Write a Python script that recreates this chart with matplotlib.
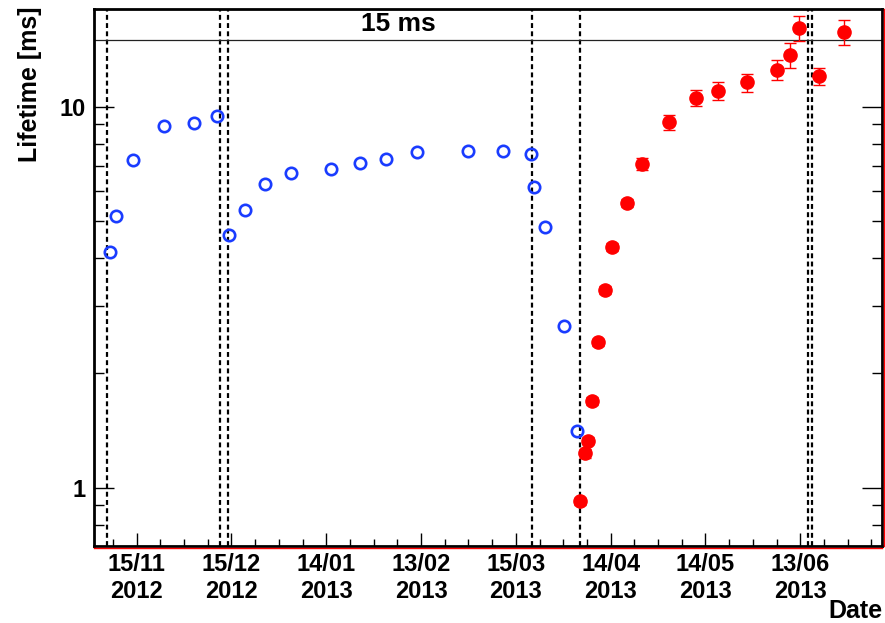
import numpy as np
import matplotlib
matplotlib.use('Agg')
import matplotlib.pyplot as plt
import matplotlib.dates as mdates
import matplotlib.ticker as ticker
import matplotlib.transforms as mtransforms

plt.rcParams['font.family'] = ['Liberation Sans', 'DejaVu Sans']
plt.rcParams['font.weight'] = 'bold'

# open blue circles (first period)
blue_dates = ['2012-11-06 13:00', '2012-11-08 11:00', '2012-11-13 17:00', '2012-11-23 13:00',
              '2012-12-03 01:00', '2012-12-10 10:00', '2012-12-14 07:00', '2012-12-19 05:00',
              '2012-12-25 17:00', '2013-01-02 18:00', '2013-01-15 12:00', '2013-01-24 14:00',
              '2013-02-02 00:00', '2013-02-11 17:00', '2013-02-27 19:00', '2013-03-10 22:00',
              '2013-03-19 17:00', '2013-03-20 17:00', '2013-03-24 05:00', '2013-03-30 07:00',
              '2013-04-03 12:00']
blue_lifetime = [4.15, 5.16, 7.25, 8.92, 9.05, 9.45, 4.61, 5.36, 6.27, 6.69, 6.88, 7.13,
                 7.28, 7.62, 7.65, 7.65, 7.53, 6.17, 4.83, 2.66, 1.41]

# filled red points with errors (second period)
red_dates = ['2013-04-04 07:00', '2013-04-06 00:00', '2013-04-06 22:00', '2013-04-08 00:00',
             '2013-04-10 00:00', '2013-04-12 02:00', '2013-04-14 14:00', '2013-04-19 02:00',
             '2013-04-24 00:00', '2013-05-02 12:00', '2013-05-11 00:00', '2013-05-18 00:00',
             '2013-05-27 05:00', '2013-06-05 19:00', '2013-06-09 19:00', '2013-06-12 17:00',
             '2013-06-18 19:00', '2013-06-27 00:00']
red_lifetime = [0.92, 1.23, 1.33, 1.69, 2.41, 3.30, 4.29, 5.59, 7.09, 9.10, 10.54, 10.99,
                11.59, 12.51, 13.64, 16.09, 12.02, 15.73]
red_err = [0.02, 0.03, 0.03, 0.04, 0.05, 0.08, 0.10, 0.15, 0.25, 0.41, 0.51, 0.60,
           0.63, 0.79, 1.03, 1.17, 0.65, 1.21]

# dashed markers of events
event_dates = ['2012-11-05 17:00', '2012-12-11 10:00', '2012-12-13 19:00', '2013-03-20 05:00',
               '2013-04-04 07:00', '2013-06-15 12:00', '2013-06-16 14:00']

ref_lifetime = 15
tick_labels = ['15/11 2012', '15/12 2012', '14/01 2013', '13/02 2013',
               '15/03 2013', '14/04 2013', '14/05 2013', '13/06 2013']
x_range = ['2012-11-01 12:00', '2013-07-08 19:00']
y_range = [0.703, 18.05]


def to_num(strings):
    return np.array([mdates.datestr2num(s) for s in strings])


def label_num(lab):
    dm, y = lab.split()
    d, m = dm.split('/')
    return mdates.datestr2num('%s-%s-%s' % (y, m, d))


fig = plt.figure(figsize=(8.85, 6.23), dpi=100)
ax = fig.add_axes([94 / 885, 77 / 623, 787.7 / 885, 537 / 623])

ax.set_yscale('log')
ax.set_xlim(to_num(x_range))
ax.set_ylim(y_range)

for d in to_num(event_dates):
    ax.axvline(d, color='black', lw=1.6, ls=(0, (2.2, 1.5)), zorder=1)
ax.axhline(ref_lifetime, color='#222222', lw=0.9, zorder=1)

ax.plot(to_num(blue_dates), blue_lifetime, 'o', mfc='none', mec='#1a3cff',
        ms=8.2, mew=1.9, zorder=3)
ax.errorbar(to_num(red_dates), red_lifetime, yerr=red_err, fmt='o', color='#ff0000',
            ms=9.5, elinewidth=1, capsize=4, capthick=1, zorder=4)

# x axis: dates
major = [label_num(l) for l in tick_labels]
step = major[1] - major[0]
minor = np.arange(major[0] - step / 4, to_num(x_range)[1], step / 4)
ax.xaxis.set_major_locator(ticker.FixedLocator(major))
ax.xaxis.set_major_formatter(ticker.FixedFormatter([l.replace(' ', '\n') for l in tick_labels]))
ax.xaxis.set_minor_locator(ticker.FixedLocator(minor))

ax.yaxis.set_major_locator(ticker.LogLocator(base=10, numticks=10))
ax.yaxis.set_minor_locator(ticker.LogLocator(base=10, subs=np.arange(2, 10), numticks=10))
ax.yaxis.set_major_formatter(ticker.FuncFormatter(lambda v, p: '%g' % v))
ax.yaxis.set_minor_formatter(ticker.NullFormatter())

ax.tick_params(axis='x', which='major', direction='in', length=9.5, width=1, pad=5,
               labelsize=17, top=False)
ax.tick_params(axis='x', which='minor', direction='in', length=5, width=1, top=False)
ax.tick_params(axis='y', which='major', direction='in', length=14.5, width=1, pad=6,
               labelsize=17, left=True, right=True)
ax.tick_params(axis='y', which='minor', direction='in', length=7.5, width=1,
               left=True, right=True)
for lab in ax.get_xticklabels():
    lab.set_linespacing(1.2)

for s in ax.spines.values():
    s.set_linewidth(2)
    s.set_color('black')

# red frame lines just outside bottom and right edges
off_b = mtransforms.offset_copy(ax.transAxes, fig=fig, x=0, y=-2, units='dots')
off_r = mtransforms.offset_copy(ax.transAxes, fig=fig, x=2, y=0, units='dots')
ax.plot([0, 1], [0, 0], color='red', lw=1, transform=off_b, clip_on=False, zorder=5)
ax.plot([1, 1], [0, 1], color='red', lw=1, transform=off_r, clip_on=False, zorder=5)

fig.text(398 / 885, 1 - 24 / 623, '15 ms', ha='center', va='center', fontsize=19,
         fontweight='bold')
fig.text(882 / 885, 1 - 611 / 623, 'Date', ha='right', va='center', fontsize=18,
         fontweight='bold')
fig.text(30 / 885, 1 - 6 / 623, 'Lifetime [ms]', ha='center', va='top', rotation=90,
         fontsize=18, fontweight='bold')

fig.savefig('out.png', dpi=100)
